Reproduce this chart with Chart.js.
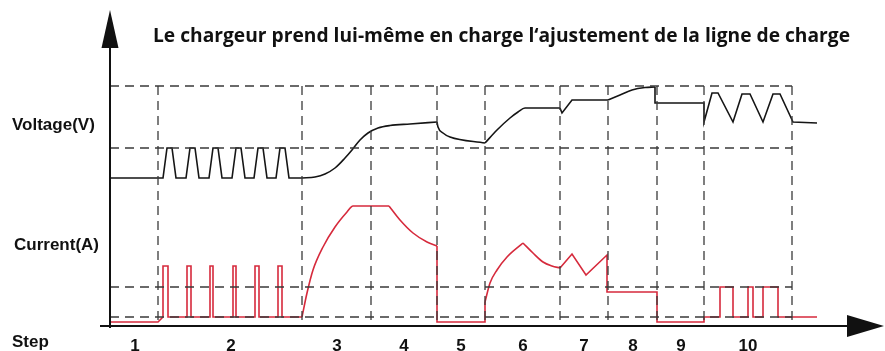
<!DOCTYPE html>
<html>
<head>
<meta charset="utf-8">
<script src="https://cdn.jsdelivr.net/npm/chart.js@4"></script>
<style>
  html, body { margin: 0; padding: 0; background: #fff; }
  #wrap { width: 885px; height: 351px; }
</style>
</head>
<body>
<div id="wrap"><canvas id="charge_chart" width="885" height="351"></canvas></div>
<script>
// x = time from the start of step 1, y = level above the time axis
var chart_title = 'Le chargeur prend lui-même en charge l\u2018ajustement de la ligne de charge';
var step_labels = ['1', '2', '3', '4', '5', '6', '7', '8', '9', '10'];
var step_centers = [25, 121, 227, 294, 351, 413, 474, 523, 571, 638];
var step_bounds = [48, 192, 261, 327, 375, 450, 498, 547, 594, 682];
var guide_levels = [240, 178, 39, 9];
var guide_top = 240;

// voltage trace: straight pieces and curved pieces
var voltage_pulses = [[0,148],[53,148],[57,178],[62,178],[66,148],[76,148],[80,178],[85,178],[89,148],
  [99,148],[103,178],[108,178],[112,148],[122,148],[126,178],[131,178],[135,148],[144,148],[148,178],
  [153,178],[157,148],[166,148],[170,178],[175,178],[179,148],[192,148]];
var voltage_bulk = [[192,148],[205,149],[215,152],[225,158],[235,168],[242,176],[250,186],[258,193],
  [268,198],[280,200.5],[300,202],[327,204]];
var voltage_rest = [[327,204],[328,199],[333,193],[340,189],[375,183]];
var voltage_absorb = [[375,183],[387,196],[400,208],[408,214],[415,218],[450,218]];
var voltage_step7 = [[450,218],[452,213],[462,226],[498,226]];
var voltage_step8 = [[498,226],[510,231],[522,236],[535,238.5],[545,239]];
var voltage_float = [[545,239],[545,223],[594,223],[594,204],[602,233],[608,233],[623,204],[632,232],
  [640,232],[653,204],[663,232],[670,232],[683,204],[707,203]];

// current trace
var current_pulses = [[0,4],[48,4],[53,9],[53,60],[58,60],[58,9],[77,9],[77,60],[81,60],[81,9],
  [100,9],[100,60],[103,60],[103,9],[123,9],[123,60],[126,60],[126,9],[145,9],[145,60],[149,60],[149,9],
  [168,9],[168,60],[172,60],[172,9],[192,9]];
var current_bulk = [[192,9],[197,33],[203,56],[213,79],[225,99],[237,114],[243,120],[279,120]];
var current_taper = [[279,120],[290,106],[303,93],[317,84],[327,80]];
var current_rest = [[327,80],[327,4],[375,4],[375,24]];
var current_rise = [[375,24],[380,43],[387,56],[397,69],[413,83]];
var current_fall = [[413,83],[423,73],[433,64],[442,60],[450,58]];
var current_float = [[450,58],[462,72],[476,51],[497,71],[497,34],[547,34],[547,4],[594,4],[594,9],
  [610,9],[610,39],[623,39],[623,9],[638,9],[638,39],[643,39],[643,9],[653,9],[653,39],[668,39],[668,9],[707,9]];

var black = '#151515';
var red = '#d62a3c';

function trace(points, color, curved) {
  return {
    data: points.map(function(p) { return {x: p[0], y: p[1]}; }),
    showLine: true,
    borderColor: color,
    borderWidth: 1.6,
    pointRadius: 0,
    tension: 0,
    cubicInterpolationMode: curved ? 'monotone' : 'default',
    clip: false
  };
}

function guide(points) {
  return {
    data: points.map(function(p) { return {x: p[0], y: p[1]}; }),
    showLine: true,
    borderColor: '#3a3a3a',
    borderWidth: 1.3,
    borderDash: [9, 6],
    pointRadius: 0,
    clip: false
  };
}

var datasets = [];
guide_levels.forEach(function(lv) { datasets.push(guide([[0, lv], [step_bounds[step_bounds.length - 1], lv]])); });
step_bounds.forEach(function(b) { datasets.push(guide([[b, guide_top], [b, 0]])); });

datasets.push(trace(voltage_pulses, black, false));
datasets.push(trace(voltage_bulk, black, true));
datasets.push(trace(voltage_rest, black, true));
datasets.push(trace(voltage_absorb, black, true));
datasets.push(trace(voltage_step7, black, false));
datasets.push(trace(voltage_step8, black, true));
datasets.push(trace(voltage_float, black, false));

datasets.push(trace(current_pulses, red, false));
datasets.push(trace(current_bulk, red, true));
datasets.push(trace(current_taper, red, true));
datasets.push(trace(current_rest, red, false));
datasets.push(trace(current_rise, red, true));
datasets.push(trace(current_fall, red, true));
datasets.push(trace(current_float, red, false));

// axes with arrow heads, side labels, step numbers and the heading
var overlay = {
  id: 'overlay',
  afterDraw: function(chart) {
    var ctx = chart.ctx, area = chart.chartArea;
    var xs = chart.scales.x, ys = chart.scales.y;
    var x0 = xs.getPixelForValue(0), y0 = ys.getPixelForValue(0);
    ctx.save();
    ctx.strokeStyle = '#111';
    ctx.fillStyle = '#111';
    ctx.lineWidth = 2;
    ctx.beginPath();
    ctx.moveTo(x0, y0 + 2);
    ctx.lineTo(x0, area.top + 36);
    ctx.moveTo(x0 - 10, y0);
    ctx.lineTo(area.right - 36, y0);
    ctx.stroke();

    ctx.beginPath();
    ctx.moveTo(x0, area.top);
    ctx.lineTo(x0 - 8.5, area.top + 38);
    ctx.lineTo(x0 + 8.5, area.top + 38);
    ctx.closePath();
    ctx.fill();
    ctx.beginPath();
    ctx.moveTo(area.right - 1, y0);
    ctx.lineTo(area.right - 38, y0 - 11);
    ctx.lineTo(area.right - 38, y0 + 11);
    ctx.closePath();
    ctx.fill();

    ctx.font = 'bold 17px "Liberation Sans", Arial, sans-serif';
    ctx.textAlign = 'left';
    ctx.textBaseline = 'alphabetic';
    ctx.fillText('Voltage(V)', 12, ys.getPixelForValue(196));
    ctx.fillText('Current(A)', 14, ys.getPixelForValue(76));
    ctx.fillText('Step', 12, y0 + 21);

    ctx.textAlign = 'center';
    step_labels.forEach(function(s, i) {
      ctx.fillText(s, xs.getPixelForValue(step_centers[i]), y0 + 25);
    });

    ctx.font = 'bold 20px "Open Sans", sans-serif';
    ctx.textAlign = 'left';
    var w = ctx.measureText(chart_title).width;
    ctx.translate(153, 42);
    ctx.scale(697 / w, 1);
    ctx.fillText(chart_title, 0, 0);
    ctx.restore();
  }
};

var ctx = document.getElementById('charge_chart');
var chargeChart = new Chart(ctx, {
  type: 'scatter',
  data: { datasets: datasets },
  options: {
    responsive: false,
    animation: false,
    layout: { padding: { left: 110, right: 0, top: 10, bottom: 25 } },
    plugins: { legend: { display: false }, tooltip: { enabled: false } },
    scales: {
      x: { type: 'linear', min: 0, max: 775, display: false },
      y: { type: 'linear', min: 0, max: 316, display: false }
    }
  },
  plugins: [overlay]
});
</script>
</body>
</html>
